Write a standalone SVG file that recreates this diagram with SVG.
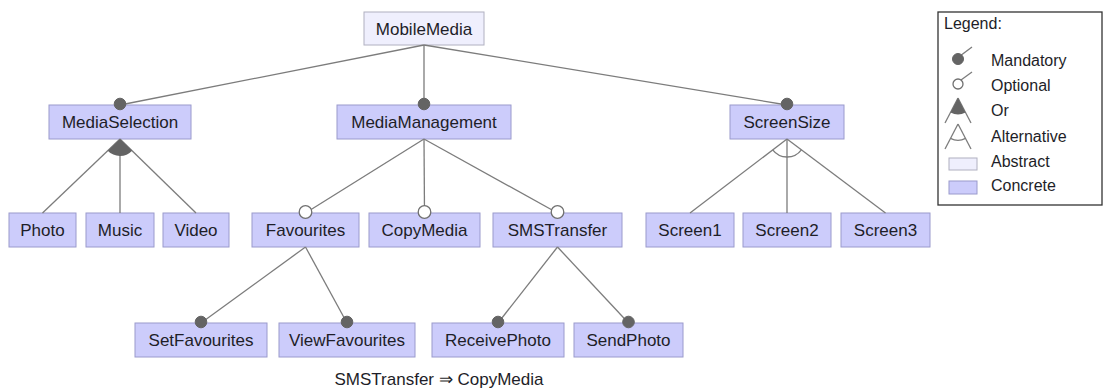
<svg xmlns="http://www.w3.org/2000/svg" width="1107" height="391" viewBox="0 0 1107 391">
<style>
.c{fill:#ccccfb;stroke:#9a9acc;stroke-width:1}
.a{fill:#efeffd;stroke:#b0b0c0;stroke-width:1}
text{font-family:"Liberation Sans",Arial,sans-serif;fill:#1e1e28}
.t{font-size:17px;text-anchor:middle}
.l{font-size:16px}
.e{stroke:#7c7c7c;stroke-width:1.3;fill:none}
.m{fill:#646464;stroke:#646464;stroke-width:1}
.o{fill:#ffffff;stroke:#707070;stroke-width:1.3}
.or{fill:#646464;stroke:none}
</style>
<rect width="1107" height="391" fill="#ffffff"/>
<g id="MobileMedia"><rect class="a" x="364" y="12" width="120" height="33"/><text class="t" x="424" y="34.5">MobileMedia</text></g>
<g id="MediaSelection"><rect class="c" x="49" y="105" width="142" height="34"/><text class="t" x="120" y="128">MediaSelection</text></g>
<g id="MediaManagement"><rect class="c" x="337" y="105" width="174" height="34"/><text class="t" x="424" y="128">MediaManagement</text></g>
<g id="ScreenSize"><rect class="c" x="730" y="105" width="114" height="34"/><text class="t" x="787" y="128">ScreenSize</text></g>
<g id="Photo"><rect class="c" x="9" y="213" width="67" height="34"/><text class="t" x="42.5" y="236">Photo</text></g>
<g id="Music"><rect class="c" x="86" y="213" width="68" height="34"/><text class="t" x="120" y="236">Music</text></g>
<g id="Video"><rect class="c" x="163" y="213" width="66" height="34"/><text class="t" x="196" y="236">Video</text></g>
<g id="Favourites"><rect class="c" x="252" y="213" width="107" height="34"/><text class="t" x="305.5" y="236">Favourites</text></g>
<g id="CopyMedia"><rect class="c" x="369" y="213" width="111" height="34"/><text class="t" x="424.5" y="236">CopyMedia</text></g>
<g id="SMSTransfer"><rect class="c" x="493" y="213" width="129" height="34"/><text class="t" x="557.5" y="236">SMSTransfer</text></g>
<g id="Screen1"><rect class="c" x="646" y="213" width="88" height="34"/><text class="t" x="690" y="236">Screen1</text></g>
<g id="Screen2"><rect class="c" x="743" y="213" width="88" height="34"/><text class="t" x="787" y="236">Screen2</text></g>
<g id="Screen3"><rect class="c" x="841" y="213" width="89" height="34"/><text class="t" x="885.5" y="236">Screen3</text></g>
<g id="SetFavourites"><rect class="c" x="135" y="323" width="132" height="34"/><text class="t" x="201" y="346">SetFavourites</text></g>
<g id="ViewFavourites"><rect class="c" x="279" y="323" width="136" height="34"/><text class="t" x="347" y="346">ViewFavourites</text></g>
<g id="ReceivePhoto"><rect class="c" x="432" y="323" width="132" height="34"/><text class="t" x="498" y="346">ReceivePhoto</text></g>
<g id="SendPhoto"><rect class="c" x="574" y="323" width="109" height="34"/><text class="t" x="628.5" y="346">SendPhoto</text></g>
<g id="connectors">
<line class="e" x1="424" y1="45" x2="120" y2="105"/>
<line class="e" x1="424" y1="45" x2="424" y2="105"/>
<line class="e" x1="424" y1="45" x2="787" y2="105"/>
<line class="e" x1="120" y1="139" x2="42.5" y2="213"/>
<line class="e" x1="120" y1="139" x2="120" y2="213"/>
<line class="e" x1="120" y1="139" x2="196" y2="213"/>
<path class="or" d="M120,139 L107.7,150.7 A17,17 0 0 0 132.2,150.8 Z"/>
<line class="e" x1="424" y1="139" x2="305.5" y2="213"/>
<line class="e" x1="424" y1="139" x2="424.5" y2="213"/>
<line class="e" x1="424" y1="139" x2="557.5" y2="213"/>
<line class="e" x1="787" y1="139" x2="690" y2="213"/>
<line class="e" x1="787" y1="139" x2="787" y2="213"/>
<line class="e" x1="787" y1="139" x2="885.5" y2="213"/>
<path class="e" d="M772.7,149.9 A18,18 0 0 0 801.4,149.8"/>
<line class="e" x1="305.5" y1="247" x2="201" y2="323"/>
<line class="e" x1="305.5" y1="247" x2="347" y2="323"/>
<line class="e" x1="557.5" y1="247" x2="498" y2="323"/>
<line class="e" x1="557.5" y1="247" x2="628.5" y2="323"/>
<circle class="m" cx="120" cy="104" r="5.8"/>
<circle class="m" cx="424" cy="104" r="5.8"/>
<circle class="m" cx="787" cy="104" r="5.8"/>
<circle class="o" cx="305.5" cy="212" r="6.3"/>
<circle class="o" cx="424.5" cy="212" r="6.3"/>
<circle class="o" cx="557.5" cy="212" r="6.3"/>
<circle class="m" cx="201" cy="322" r="5.8"/>
<circle class="m" cx="347" cy="322" r="5.8"/>
<circle class="m" cx="498" cy="322" r="5.8"/>
<circle class="m" cx="628.5" cy="322" r="5.8"/>
</g>
<g id="constraint"><text class="t" x="439" y="385">SMSTransfer ⇒ CopyMedia</text></g>
<g id="legend">
<rect x="938" y="12" width="164" height="193" fill="#ffffff" stroke="#333333" stroke-width="1.3"/>
<text class="l" x="944" y="29">Legend:</text>
<line class="e" x1="960" y1="56" x2="972" y2="47"/>
<circle class="m" cx="958" cy="59" r="5.5"/>
<text class="l" x="991" y="66">Mandatory</text>
<line class="e" x1="961" y1="80" x2="972" y2="72"/>
<circle class="o" cx="958" cy="84" r="5"/>
<text class="l" x="991" y="91">Optional</text>
<line class="e" x1="958" y1="98" x2="945" y2="123"/>
<line class="e" x1="958" y1="98" x2="971" y2="123"/>
<path class="or" d="M958,98 L950.5,112.4 A16,16 0 0 0 965.5,112.4 Z"/>
<text class="l" x="991" y="116">Or</text>
<line class="e" x1="958" y1="124" x2="945" y2="149"/>
<line class="e" x1="958" y1="124" x2="971" y2="149"/>
<path class="e" d="M950.5,138.4 A16,16 0 0 0 965.5,138.4"/>
<text class="l" x="991" y="142">Alternative</text>
<rect class="a" x="949" y="158" width="28" height="12"/>
<text class="l" x="991" y="167">Abstract</text>
<rect class="c" x="949" y="181" width="28" height="13"/>
<text class="l" x="991" y="191">Concrete</text>
</g>
</svg>
